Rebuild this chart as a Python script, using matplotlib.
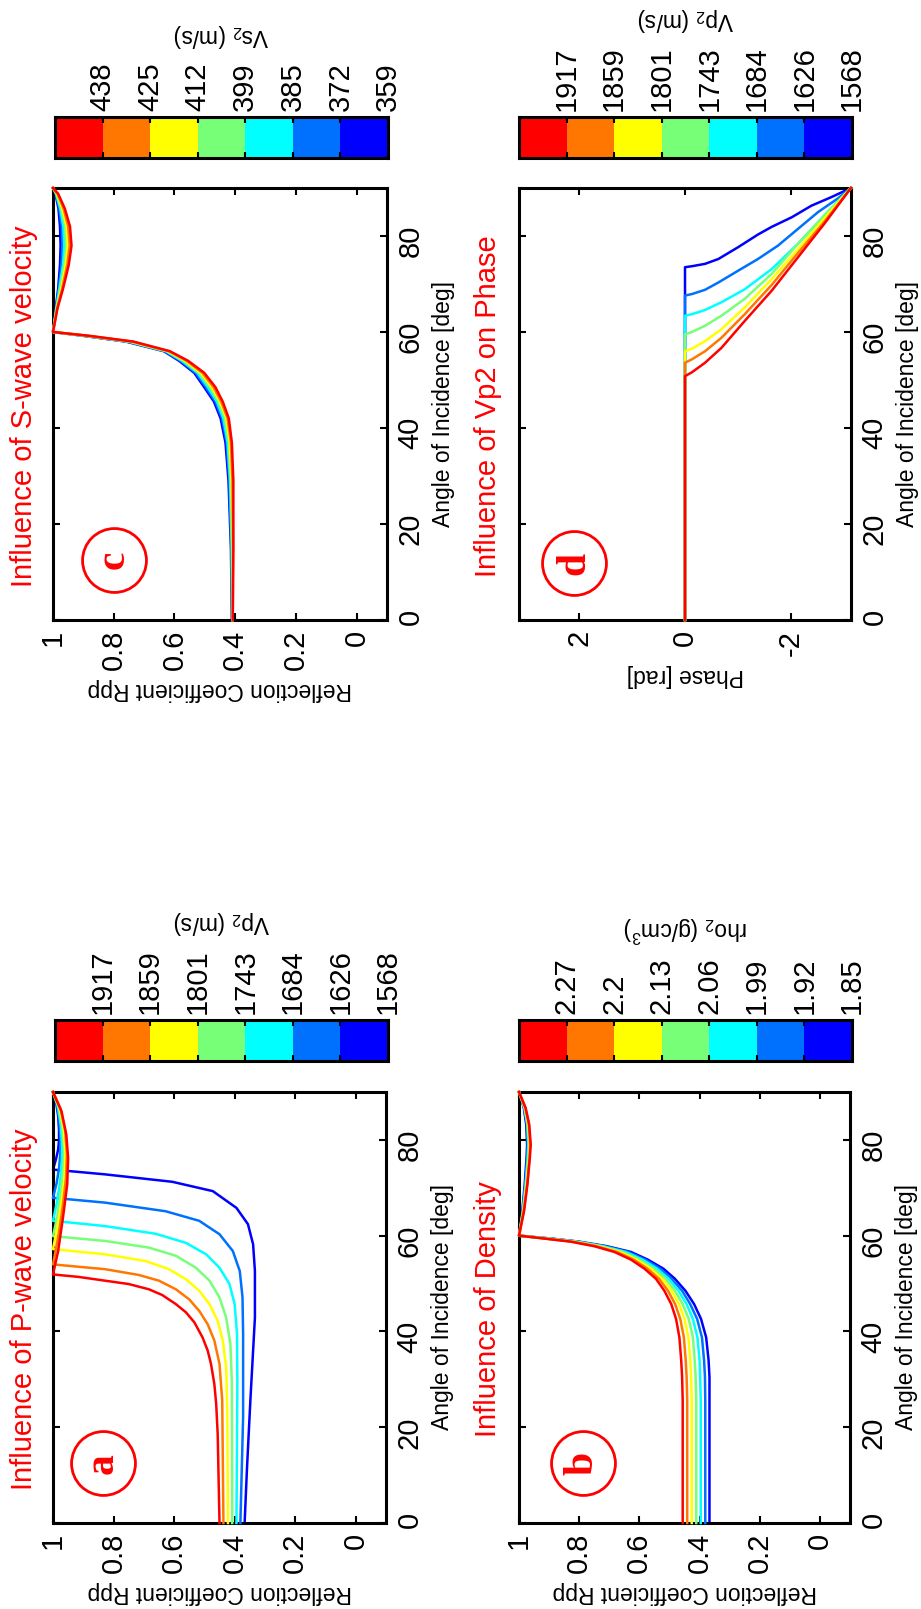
"""Rpp sensitivity figure (rotated page layout): P-wave, density, S-wave and phase panels."""

import matplotlib
matplotlib.use("Agg")
import matplotlib.pyplot as plt  # noqa: E402
from matplotlib.colors import ListedColormap  # noqa: E402
import numpy as np  # noqa: E402

plt.rcParams.update({
    "font.family": "Liberation Sans", "mathtext.fontset": "custom",
    "mathtext.rm": "Liberation Sans", "mathtext.it": "Liberation Sans:italic",
})

# jet(7), ordered red -> blue (highest parameter value first)
JET7 = ["#FF0000", "#FF7700", "#FFFF00", "#77FF77", "#00FFFF", "#0070FF", "#0000FF"]

VP2 = [1917, 1859, 1801, 1743, 1684, 1626, 1568]
RHO2 = [2.27, 2.2, 2.13, 2.06, 1.99, 1.92, 1.85]
VS2 = [438, 425, 412, 399, 385, 372, 359]

# (a) P-wave velocity: incidence angle [deg] and Rpp, one list per curve (red -> blue)
pwave_ang = [
    [0, 18.6, 24.9, 29.0, 33.2, 36.0, 38.75, 41.9, 44.0, 45.7, 47.6, 48.8, 49.9, 50.6, 51.4, 51.9,
     56.8, 63.8, 70.7, 76.2, 81.1, 86.0, 90],
    [0, 25.6, 33.2, 38.1, 41.5, 44.3, 46.7, 48.8, 50.6, 51.8, 53.0, 54.0, 60, 66, 72, 77, 82, 86.5, 90],
    [0, 22.1, 32.5, 38.1, 42.2, 45.7, 48.5, 50.9, 53.0, 54.7, 56.1, 57.2, 62, 67, 72, 77, 82, 86.5, 90],
    [0, 29.0, 37.4, 42.9, 47.1, 50.6, 53.3, 55.8, 57.5, 58.9, 59.9, 64, 69, 74, 78, 82.5, 87, 90],
    [0, 29.0, 39.4, 45.7, 49.9, 53.3, 56.1, 58.5, 60.4, 62.0, 63.1, 67, 71, 75, 78.5, 83, 87, 90],
    [0, 22.1, 39.4, 47.1, 52.6, 56.8, 60.3, 63.1, 65.1, 66.9, 67.9, 71, 74, 77, 80, 84, 87.5, 90],
    [0, 11.7, 25.6, 36.0, 42.9, 52.6, 58.2, 62.4, 65.8, 69.3, 71.25, 72.8, 73.8, 76, 78, 80, 82, 85, 88, 90],
]
pwave_rpp = [
    [.450, .456, .461, .467, .478, .489, .506, .533, .561, .594, .639, .683, .750, .828, .917, 1.0,
     .983, .967, .953, .950, .956, .972, 1.0],
    [.437, .441, .450, .467, .489, .517, .550, .594, .650, .717, .828, 1.0, .982, .968, .957, .954, .960, .975, 1.0],
    [.422, .424, .428, .439, .456, .483, .517, .561, .617, .694, .828, 1.0, .985, .972, .962, .959, .964, .978, 1.0],
    [.408, .409, .414, .428, .450, .483, .528, .594, .683, .828, 1.0, .986, .974, .966, .964, .969, .981, 1.0],
    [.394, .391, .392, .400, .417, .450, .494, .561, .661, .828, 1.0, .987, .977, .971, .970, .974, .984, 1.0],
    [.381, .372, .372, .374, .383, .406, .450, .517, .628, .828, 1.0, .988, .980, .976, .975, .979, .987, 1.0],
    [.367, .359, .348, .339, .333, .333, .339, .356, .394, .472, .606, .828, 1.0, .990, .983, .980, .980,
     .983, .990, 1.0],
]

# (b) density: shared angle grid
dens_ang = [0, 25.6, 30.5, 34, 38.75, 42.6, 45.7, 48.5, 51, 53.1, 55, 56.6, 57.8, 58.75, 59.4, 60,
            65.2, 70.7, 76.2, 79, 83.2, 86.7, 90]
dens_rpp = [
    [.456, .456, .458, .461, .467, .478, .494, .517, .545, .583, .628, .683, .750, .828, .917, 1.0,
     .983, .972, .964, .961, .966, .978, 1.0],
    [.441, .441, .443, .446, .452, .464, .481, .505, .535, .573, .619, .674, .743, .823, .913, 1.0,
     .984, .973, .965, .963, .967, .979, 1.0],
    [.426, .426, .428, .431, .437, .450, .468, .493, .524, .562, .609, .665, .736, .818, .909, 1.0,
     .985, .975, .967, .965, .969, .980, 1.0],
    [.411, .411, .413, .416, .422, .436, .456, .482, .514, .552, .600, .656, .729, .814, .905, 1.0,
     .986, .976, .969, .967, .971, .981, 1.0],
    [.396, .396, .398, .400, .407, .422, .443, .470, .503, .541, .590, .646, .722, .809, .901, 1.0,
     .987, .978, .971, .969, .972, .982, 1.0],
    [.381, .381, .382, .385, .392, .408, .431, .458, .493, .531, .581, .637, .715, .805, .897, 1.0,
     .988, .979, .973, .971, .974, .983, 1.0],
    [.367, .367, .367, .370, .378, .395, .418, .447, .482, .520, .572, .628, .708, .800, .893, 1.0,
     .989, .981, .975, .973, .976, .984, 1.0],
]

# (c) S-wave velocity
swave_ang = [0, 15, 29, 37, 42, 45.5, 48.5, 51.5, 54, 56, 58, 59.2, 60, 65, 69, 74, 78, 82, 85.7, 88.8, 90]
swave_rpp = [
    [.408, .406, .406, .411, .421, .441, .465, .502, .555, .615, .735, .880, 1.0,
     .985, .967, .948, .939, .944, .961, .983, 1.0],
    [.408, .407, .409, .414, .425, .446, .471, .508, .560, .618, .739, .883, 1.0,
     .986, .970, .953, .945, .950, .965, .985, 1.0],
    [.409, .408, .412, .418, .429, .450, .477, .514, .565, .621, .743, .886, 1.0,
     .987, .973, .958, .951, .955, .969, .987, 1.0],
    [.409, .410, .414, .421, .434, .455, .483, .519, .570, .625, .747, .890, 1.0,
     .988, .976, .963, .957, .960, .973, .988, 1.0],
    [.410, .411, .417, .425, .439, .460, .490, .524, .575, .628, .751, .893, 1.0,
     .989, .979, .967, .963, .966, .976, .990, 1.0],
    [.410, .413, .419, .428, .443, .465, .496, .530, .580, .632, .755, .896, 1.0,
     .990, .981, .972, .969, .971, .979, .991, 1.0],
    [.411, .414, .422, .432, .448, .470, .502, .535, .585, .635, .760, .900, 1.0,
     .991, .983, .977, .975, .977, .982, .992, 1.0],
]

# (d) phase of Rpp for the Vp2 series [rad]
phase_ang = [
    [0, 50.8, 51.6, 53.6, 56.7, 62.3, 68.6, 75.6, 82.6, 90],
    [0, 53.6, 54.3, 56.0, 58.8, 63.7, 69.8, 76.5, 83.0, 90],
    [0, 56.0, 56.5, 58.1, 60.6, 65.1, 71.0, 77.3, 83.7, 90],
    [0, 59.5, 60.0, 61.3, 63.4, 66.9, 72.1, 78.4, 84.3, 90],
    [0, 63.4, 63.7, 64.6, 66.2, 68.9, 73.1, 78.4, 84.3, 90],
    [0, 67.6, 67.9, 68.8, 70.3, 72.8, 75.2, 78.0, 81.5, 85.0, 87.8, 90],
    [0, 73.5, 73.7, 74.2, 75.2, 77.7, 80.3, 81.9, 83.9, 86.3, 88.1, 90],
]
phase_val = [
    [0, 0, -.13, -.38, -.69, -1.13, -1.64, -2.14, -2.64, -3.14],
    [0, 0, -.13, -.38, -.69, -1.13, -1.64, -2.14, -2.64, -3.14],
    [0, 0, -.13, -.38, -.69, -1.13, -1.64, -2.14, -2.64, -3.14],
    [0, 0, -.13, -.38, -.69, -1.13, -1.64, -2.14, -2.64, -3.14],
    [0, 0, -.13, -.38, -.69, -1.13, -1.64, -2.14, -2.64, -3.14],
    [0, 0, -.13, -.38, -.63, -1.01, -1.38, -1.76, -2.14, -2.52, -2.89, -3.14],
    [0, 0, -.13, -.38, -.63, -1.01, -1.38, -1.64, -2.02, -2.39, -2.77, -3.14],
]

W, H = 921, 1609
TICK_FS, LABEL_FS, TITLE_FS = 21, 16.5, 21


def rect(x0, y0, x1, y1):
    # pixel box (top-left origin) -> figure fraction
    return [x0 / W, 1 - y1 / H, (x1 - x0) / W, (y1 - y0) / H]


def panel(fig, box, angs, vals, title, title_pos, letter, circ_pos, phase=False):
    ax = fig.add_axes(rect(*box))
    # page is turned: angle runs up the page, the value axis runs right-to-left
    for i in range(6, -1, -1):
        ang = angs[i] if isinstance(angs[0], list) else angs
        ax.plot(vals[i], ang, color=JET7[i], lw=1.8, clip_on=False, zorder=2 + (6 - i))
    ax.set_ylim(0, 90)
    ax.set_yticks([0, 20, 40, 60, 80])
    if phase:
        ax.set_xlim(np.pi, -np.pi)
        ax.set_xticks([2, 0, -2])
        ax.set_xticklabels(["2", "0", "-2"])
        ax.set_xlabel("Phase [rad]", rotation=180, fontsize=LABEL_FS, labelpad=6)
    else:
        ax.set_xlim(1, -0.1)
        ax.set_xticks([1, 0.8, 0.6, 0.4, 0.2, 0])
        ax.set_xticklabels(["1", "0.8", "0.6", "0.4", "0.2", "0"])
        ax.set_xlabel("Reflection Coefficient Rpp", rotation=180, fontsize=LABEL_FS, labelpad=6)
    ax.tick_params(direction="in", length=5, width=1.5, top=True, bottom=True, left=True, right=True,
                   labelleft=False, labelright=True, labelsize=TICK_FS, pad=7)
    ax.tick_params(axis="x", labelrotation=90)
    ax.tick_params(axis="y", labelrotation=90)
    ax.yaxis.set_label_position("right")
    ax.set_ylabel("Angle of Incidence [deg]", rotation=90, fontsize=LABEL_FS, labelpad=5)
    for s in ax.spines.values():
        s.set_linewidth(2.2)
    ax.text(title_pos[0], title_pos[1], title, transform=ax.transAxes, rotation=90, ha="center",
            va="bottom", color="red", fontsize=TITLE_FS)
    ax.plot([circ_pos[0]], [circ_pos[1]], transform=ax.transAxes, marker="o", ms=46, mfc="none",
            mec="red", mew=2.0, clip_on=False)
    ax.text(circ_pos[0], circ_pos[1], letter, transform=ax.transAxes, rotation=90, ha="center",
            va="center", color="red", fontsize=30, fontweight="bold", family="Liberation Serif")
    return ax


def colorbar(fig, box, values, label):
    cax = fig.add_axes(rect(*box))
    cax.pcolormesh(np.arange(8), [0, 1], np.arange(7).reshape(1, 7), cmap=ListedColormap(JET7),
                   vmin=-0.5, vmax=6.5)
    cax.set_xlim(0, 7)
    cax.set_ylim(0, 1)
    cax.set_yticks([])
    cax.set_xticks(np.arange(1, 8))
    cax.set_xticklabels([f"{v:g}" for v in values])
    cax.tick_params(axis="x", direction="in", length=4, width=1.5, top=True, bottom=True,
                    labeltop=True, labelbottom=False, labelsize=TICK_FS, labelrotation=90, pad=4)
    cax.xaxis.set_label_position("top")
    cax.set_xlabel(label, rotation=180, va="bottom", fontsize=LABEL_FS, labelpad=10)
    for s in cax.spines.values():
        s.set_linewidth(2.2)
    return cax


def main():
    fig = plt.figure(figsize=(W / 100, H / 100), dpi=100)
    panel(fig, (53, 1092, 386, 1523), pwave_ang, pwave_rpp, "Influence of P-wave velocity",
          (-0.087, 0.077), "a", (0.150, 0.139))
    panel(fig, (519, 1092, 850, 1523), dens_ang, dens_rpp, "Influence of Density",
          (-0.094, 0.20), "b", (0.193, 0.139))
    panel(fig, (53, 188, 387, 620), swave_ang, swave_rpp, "Influence of S-wave velocity",
          (-0.087, 0.076), "c", (0.183, 0.139))
    panel(fig, (519, 188, 851, 620), phase_ang, phase_val, "Influence of Vp2 on Phase",
          (-0.094, 0.10), "d", (0.166, 0.132), phase=True)
    colorbar(fig, (55, 1020, 388, 1061), VP2, "Vp$_2$ (m/s)")
    colorbar(fig, (519, 1020, 852, 1061), RHO2, "rho$_2$ (g/cm$^3$)")
    colorbar(fig, (55, 117, 388, 158), VS2, "Vs$_2$ (m/s)")
    colorbar(fig, (519, 117, 852, 158), VP2, "Vp$_2$ (m/s)")
    fig.savefig("out.png", dpi=100)
    plt.close(fig)


if __name__ == "__main__":
    main()
